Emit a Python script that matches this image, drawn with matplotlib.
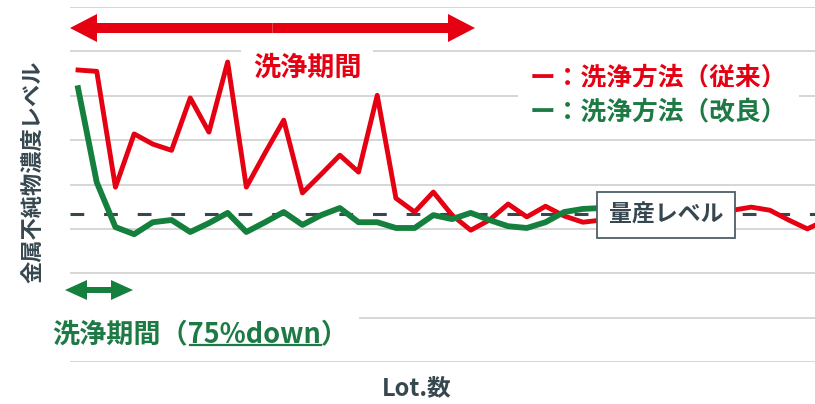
import matplotlib
matplotlib.use('Agg')
import numpy as np
import matplotlib.pyplot as plt
from matplotlib.patches import FancyArrow
from matplotlib.lines import Line2D

plt.rcParams['font.family'] = ['Noto Sans CJK JP', 'DejaVu Sans']

# 金属不純物濃度レベル（グリッド単位で読み取り）
red_old = [6.58, 6.55, 3.94, 5.14, 4.91, 4.77, 5.95, 5.18, 6.76, 3.94,
           4.71, 5.45, 3.81, 4.23, 4.66, 4.28, 6.01, 3.69, 3.38, 3.83,
           3.31, 2.97, 3.20, 3.56, 3.27, 3.51, 3.29, 3.15, 3.20, 3.38,
           3.24, 3.42, 3.31, 3.38, 3.24, 3.42, 3.49, 3.42, 3.20, 3.00,
           3.20]
green_new = [6.17, 4.05, 3.04, 2.88, 3.15, 3.20, 2.93, 3.13, 3.36, 2.93,
             3.15, 3.38, 3.09, 3.31, 3.47, 3.15, 3.15, 3.02, 3.02, 3.31,
             3.22, 3.36, 3.20, 3.06, 3.02, 3.15, 3.38, 3.45, 3.47]
mass_level = 3.33

RED = '#e50012'
GREEN = '#15803d'
GREEN_TXT = '#1d7a44'
SLATE = '#37474f'

W, H = 815, 404
fig = plt.figure(figsize=(W / 100, H / 100), dpi=100)
ax = fig.add_axes([70 / W, 42 / H, 745 / W, 355 / H])


def fx(x):
    return x / W


def fy(y):
    return 1 - y / H


# 軸座標（ピクセル -> axes fraction）
def ax_x(x):
    return (x - 70) / 745


def ax_y(y):
    return (362 - y) / 355


ax.set_xlim(-0.43, 39.41)
ax.set_ylim(0, 8)
ax.set_yticks(range(9))
ax.set_xticks([])
ax.grid(axis='y', color='#d6d6d6', lw=1.4)
ax.set_axisbelow(True)
for s in ax.spines.values():
    s.set_visible(False)
ax.tick_params(left=False, labelleft=False, bottom=False)

ax.axhline(mass_level, color=SLATE, lw=2.2, dashes=(4.5, 6.5), zorder=1)
ax.plot(np.arange(len(red_old)), red_old, color=RED, lw=3.5, zorder=2)
ax.plot(np.arange(len(green_new)), green_new, color=GREEN, lw=4.2, zorder=3)

# 両矢印
def double_arrow(x0, x1, y, shaft, head_w, head_l, color):
    cx = (x0 + x1) / 2
    for end in (x0, x1):
        ax.add_patch(FancyArrow(ax_x(cx), ax_y(y), ax_x(end) - ax_x(cx), 0,
                                width=shaft / 355, head_width=head_w / 355,
                                head_length=head_l / 745,
                                length_includes_head=True, color=color,
                                lw=0, transform=ax.transAxes, clip_on=False,
                                zorder=6))


double_arrow(70, 475, 28, 10, 28, 27, RED)
double_arrow(65, 133, 290, 6, 20, 22, GREEN)

fig.text(fx(307), fy(68), '洗浄期間', color=RED, fontsize=19.5, fontweight='bold',
         ha='center', va='center',
         bbox=dict(boxstyle='square,pad=0.45', fc='white', ec='none'))

fig.text(fx(530), fy(78), 'ー：洗浄方法（従来）', color=RED, fontsize=18.5,
         fontweight='bold', ha='left', va='center',
         bbox=dict(boxstyle='square,pad=0.3', fc='white', ec='none'))
fig.text(fx(530), fy(112), 'ー：洗浄方法（改良）', color=GREEN_TXT, fontsize=18.5,
         fontweight='bold', ha='left', va='center',
         bbox=dict(boxstyle='square,pad=0.45', fc='white', ec='none'))

fig.text(fx(666), fy(215), '量産レベル', color=SLATE, fontsize=16.5,
         fontweight='bold', ha='center', va='center',
         bbox=dict(boxstyle='square,pad=0.5', fc='white', ec='#4d5f66', lw=1.3))

label = '洗浄期間（75%down）'
t = fig.text(fx(52), fy(334), label, color=GREEN_TXT, fontsize=19.5,
             fontweight='bold', ha='left', va='center',
             bbox=dict(boxstyle='square,pad=0.4', fc='white', ec='none'))

fig.text(fx(417), fy(388), 'Lot.数', color=SLATE, fontsize=17,
         fontweight='bold', ha='center', va='center')
fig.text(fx(33), fy(172), '金属不純物濃度レベル', color=SLATE, fontsize=16,
         fontweight='bold', rotation=90, ha='center', va='center')

# 「75%down」の下線
fig.canvas.draw()
r = fig.canvas.get_renderer()
ext = t.get_window_extent(r)
prop = t.get_fontproperties()
w1 = r.get_text_width_height_descent('洗浄期間（', prop, ismath=False)[0]
w2 = r.get_text_width_height_descent('洗浄期間（75%down', prop, ismath=False)[0]
uy = ext.y0 + 3
fig.add_artist(Line2D([(ext.x0 + w1 + 2) / W, (ext.x0 + w2) / W],
                      [uy / H, uy / H], color=GREEN_TXT, lw=1.6, zorder=10))

fig.savefig('out.png', dpi=100)
